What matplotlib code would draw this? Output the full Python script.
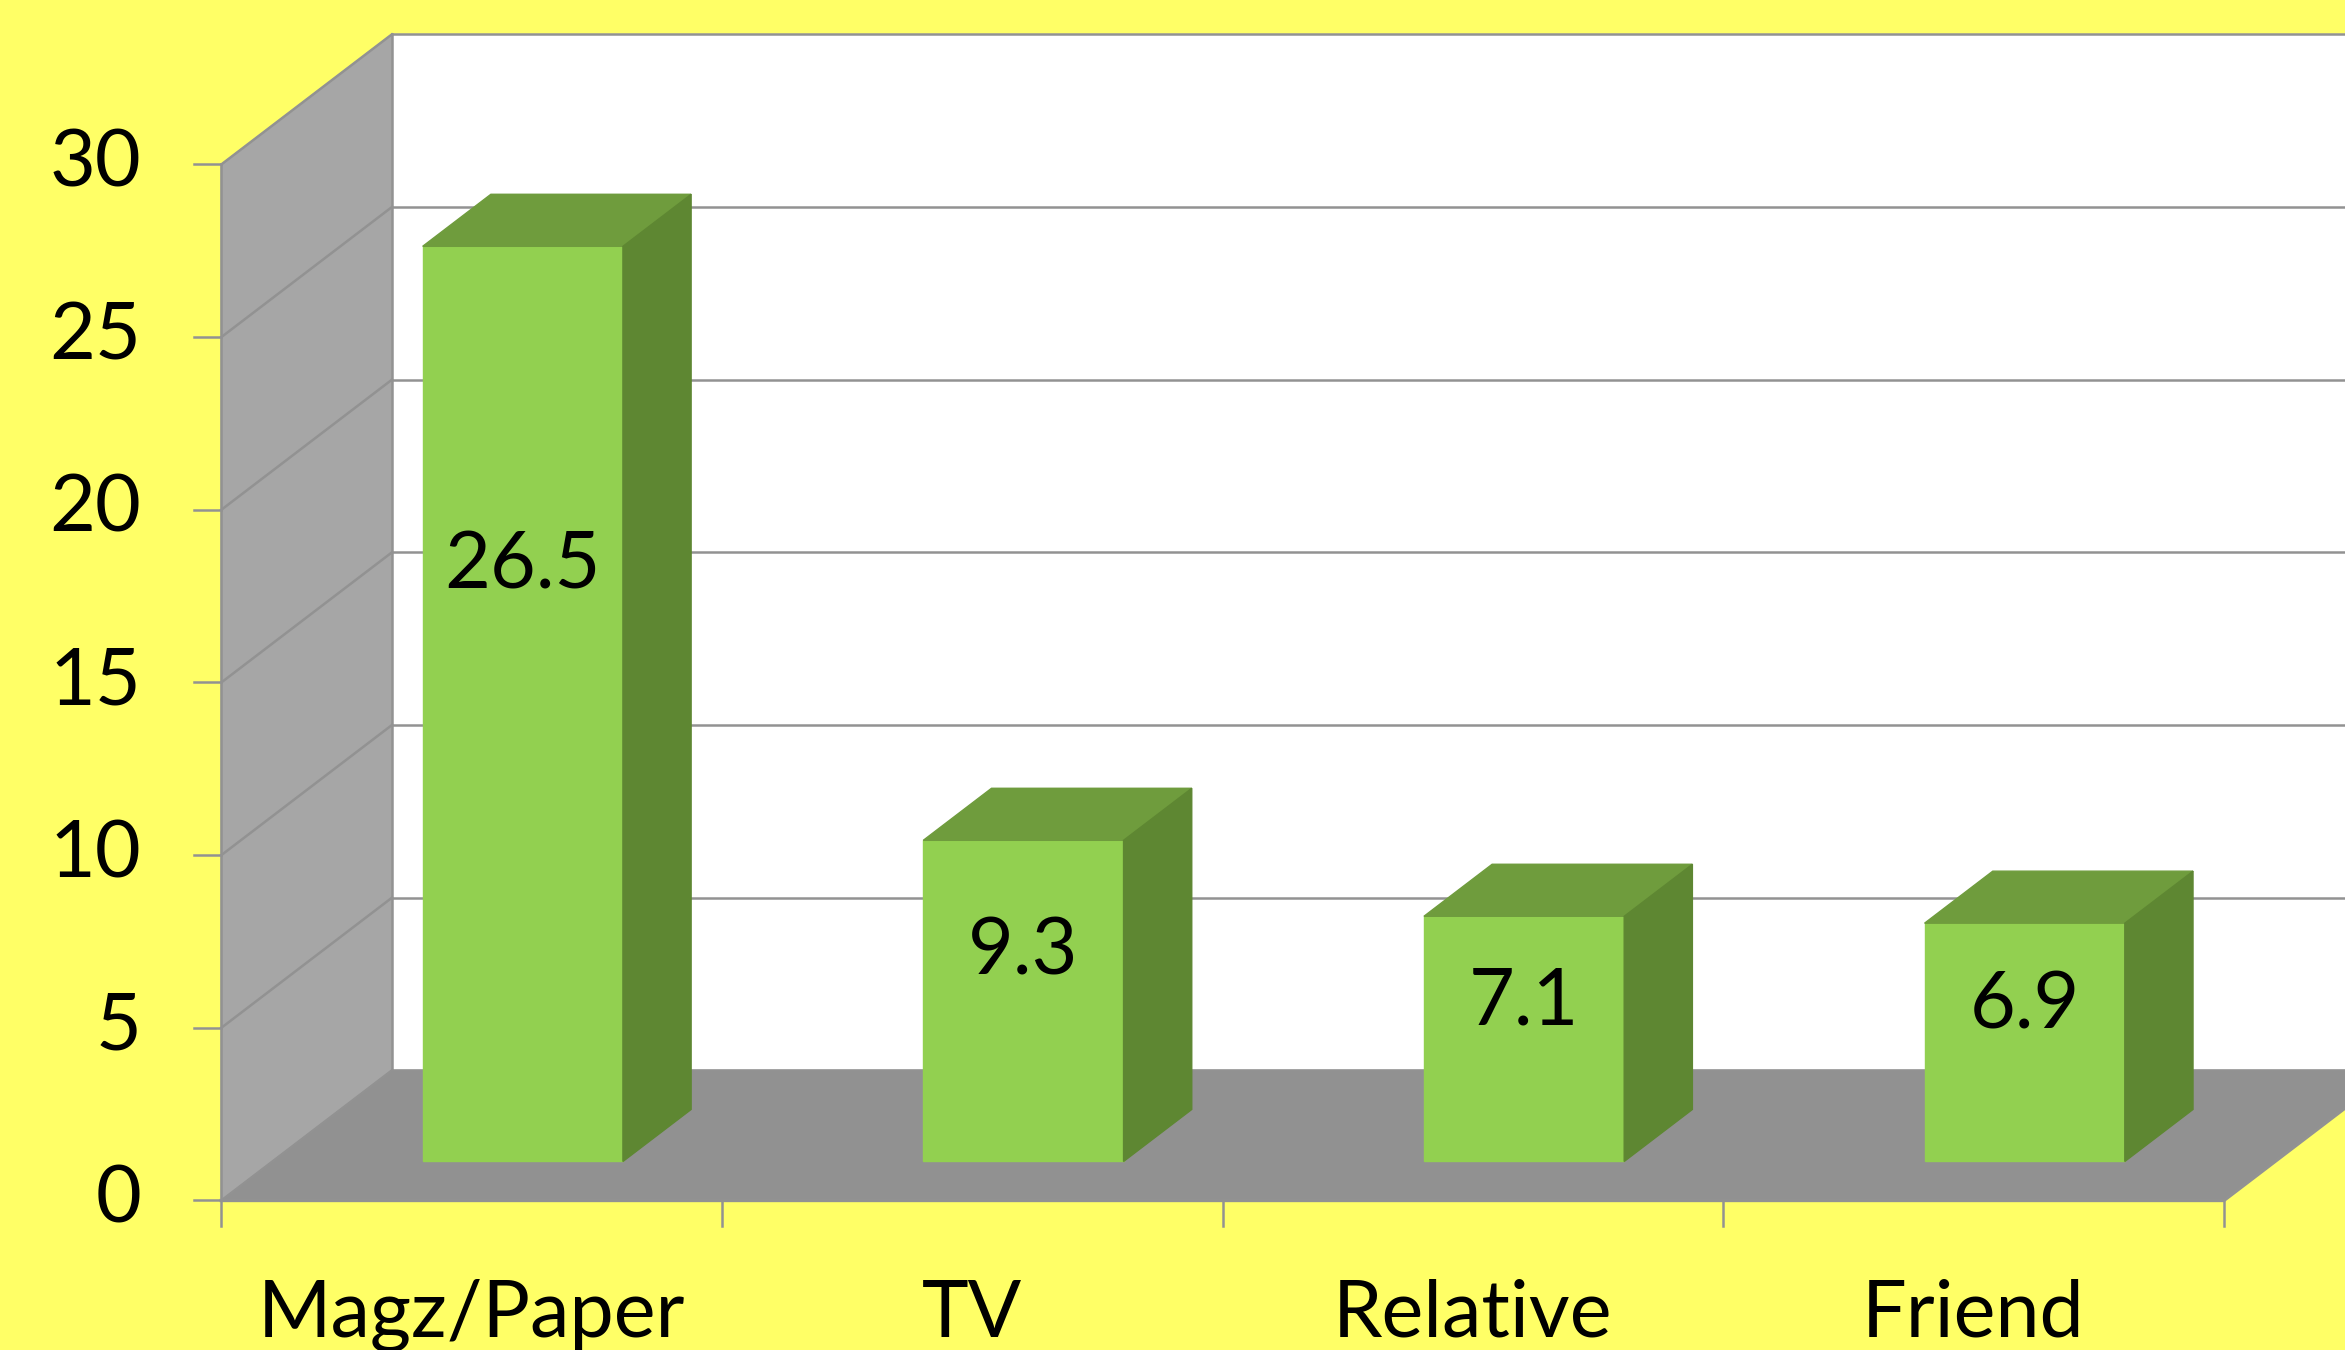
import numpy as np
import matplotlib
matplotlib.use("Agg")
import matplotlib.pyplot as plt

# datos
categorias = ["Magz/Paper", "TV", "Relative", "Friend"]
valores = [26.5, 9.3, 7.1, 6.9]
ticks_y = [0, 5, 10, 15, 20, 25, 30]

plt.rcParams['font.family'] = ['Lato', 'DejaVu Sans']

# colores estilo Excel 3D
fondo = "#FFFF66"
verde_frente = "#92D050"
verde_arriba = "#6F9C3D"
verde_lado = "#5E8732"
gris_pared = "#A6A6A6"
gris_piso = "#919191"
gris_linea = "#929292"

# profundidad (oblicua) en unidades de datos
DX, DY = 0.3406, 3.766
d0, d1 = 0.30, 0.70
ancho = 0.40
ymax = 30
tam = 57

fig = plt.figure(figsize=(23.45, 13.5), dpi=100, facecolor=fondo)
ax = fig.add_axes([0, 0, 1, 1])
ax.set_facecolor(fondo)
ax.set_xlim(-0.4421, 4.2420)
ax.set_ylim(-4.329, 34.762)
ax.axis("off")

n = len(categorias)

# pared del fondo
ax.fill([DX, n + DX, n + DX, DX], [DY, DY, ymax + DY, ymax + DY],
        color="white", zorder=1)
# pared izquierda
ax.fill([0, DX, DX, 0], [0, DY, ymax + DY, ymax], color=gris_pared, zorder=1)
# piso
ax.fill([0, n, n + DX, DX], [0, 0, DY, DY], color=gris_piso, zorder=1)

# grilla
for v in ticks_y:
    ax.plot([DX, n + DX], [v + DY, v + DY], color=gris_linea, lw=1.8, zorder=2)
    ax.plot([0, DX], [v, v + DY], color=gris_linea, lw=1.8, zorder=2)
# bordes
ax.plot([DX, DX], [DY, ymax + DY], color=gris_linea, lw=1.8, zorder=2)
ax.plot([0, n, n + DX], [0, 0, DY], color=gris_linea, lw=2.4, zorder=2)

# eje y
ax.plot([0, 0], [0, ymax], color=gris_linea, lw=1.8, zorder=3)
for v in ticks_y:
    ax.plot([-0.054, 0], [v, v], color=gris_linea, lw=1.8, zorder=3)
    ax.text(-0.16, v, str(v), ha="right", va="center", fontsize=tam, color="black")

# eje x
for i in range(n + 1):
    ax.plot([i, i], [0, -0.75], color=gris_linea, lw=1.8, zorder=3)
for i, cat in enumerate(categorias):
    ax.text(i + 0.5, -3.94, cat, ha="center", va="baseline", fontsize=tam, color="black")

# barras 3D
for i, v in enumerate(valores):
    x0 = i + 0.5 - ancho / 2
    x1 = i + 0.5 + ancho / 2
    # frente
    ax.fill([x0 + d0 * DX, x1 + d0 * DX, x1 + d0 * DX, x0 + d0 * DX],
            [d0 * DY, d0 * DY, v + d0 * DY, v + d0 * DY],
            color=verde_frente, zorder=4)
    # arriba
    ax.fill([x0 + d0 * DX, x1 + d0 * DX, x1 + d1 * DX, x0 + d1 * DX],
            [v + d0 * DY, v + d0 * DY, v + d1 * DY, v + d1 * DY],
            color=verde_arriba, zorder=4)
    # lado
    ax.fill([x1 + d0 * DX, x1 + d1 * DX, x1 + d1 * DX, x1 + d0 * DX],
            [d0 * DY, d1 * DY, v + d1 * DY, v + d0 * DY],
            color=verde_lado, zorder=4)
    # etiqueta
    ax.text(i + 0.5 + d0 * DX, 0.65 * v + d0 * DY, f"{v}", ha="center", va="center",
            fontsize=tam, color="black", zorder=5)

fig.savefig("out.png", dpi=100, facecolor=fondo)
